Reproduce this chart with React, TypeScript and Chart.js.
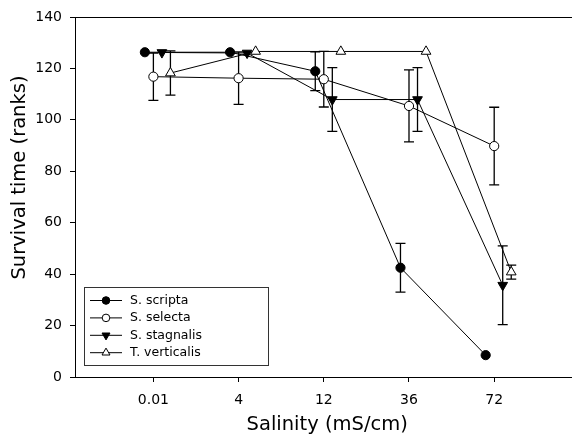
import React, { useEffect, useRef } from 'react';
import { Chart, registerables } from 'chart.js';
import { drawPoint } from 'chart.js/helpers';

Chart.register(...registerables);

// ---- data ----
const categories = ['0.01', '4', '12', '36', '72'];
const seriesNames = ['S. scripta', 'S. selecta', 'S. stagnalis', 'T. verticalis'];
const scripta = [126.3, 126.3, 118.9, 42.5, 8.5];
const scriptaErr = [0, 0, 7.5, 9.5, 0];
const selecta = [116.8, 116.2, 115.8, 105.4, 89.8];
const selectaErr = [9.2, 10.2, 10.8, 14.0, 15.1];
const stagnalis = [126.2, 126.0, 107.9, 107.9, 35.7];
const stagnalisErr = [0, 0, 12.4, 12.4, 15.3];
const verticalis = [118.2, 126.6, 126.6, 126.6, 40.8];
const verticalisErr = [8.6, 0, 0, 0, 2.7];
const yMin = 0;
const yMax = 140;
const yStep = 20;
const xTitle = 'Salinity (mS/cm)';
const yTitle = 'Survival time (ranks)';

const FONT = '"DejaVu Sans", sans-serif';

const styles = [
  { offset: -0.1, pointStyle: 'circle', rotation: 0, radius: 4.6, fill: '#000', legendRadius: 3.8 },
  { offset: 0, pointStyle: 'circle', rotation: 0, radius: 4.6, fill: '#fff', legendRadius: 3.8 },
  { offset: 0.1, pointStyle: 'triangle', rotation: 180, radius: 5.6, fill: '#000', legendRadius: 4.6 },
  { offset: 0.2, pointStyle: 'triangle', rotation: 0, radius: 5.6, fill: '#fff', legendRadius: 4.6 },
];

const seriesValues = [scripta, selecta, stagnalis, verticalis];
const seriesErrors = [scriptaErr, selectaErr, stagnalisErr, verticalisErr];

const errorBarPlugin = {
  id: 'errorBars',
  beforeDatasetsDraw(chart: any) {
    const { ctx } = chart;
    const xs = chart.scales.x;
    const ys = chart.scales.y;
    ctx.save();
    ctx.strokeStyle = '#000';
    ctx.lineWidth = 1.3;
    chart.data.datasets.forEach((ds: any) => {
      ds.data.forEach((p: any, i: number) => {
        const e = ds.errors[i];
        if (!e) return;
        const px = xs.getPixelForValue(p.x);
        const top = ys.getPixelForValue(p.y + e);
        const bot = ys.getPixelForValue(p.y - e);
        ctx.beginPath();
        ctx.moveTo(px, top);
        ctx.lineTo(px, bot);
        ctx.moveTo(px - 5, top);
        ctx.lineTo(px + 5, top);
        ctx.moveTo(px - 5, bot);
        ctx.lineTo(px + 5, bot);
        ctx.stroke();
      });
    });
    ctx.restore();
  },
};

const framePlugin = {
  id: 'frameTop',
  afterDraw(chart: any) {
    const { ctx, chartArea } = chart;
    ctx.save();
    ctx.strokeStyle = '#000';
    ctx.lineWidth = 1;
    ctx.beginPath();
    ctx.moveTo(chartArea.left, Math.round(chartArea.top) + 0.5);
    ctx.lineTo(chartArea.right, Math.round(chartArea.top) + 0.5);
    ctx.stroke();
    ctx.restore();
  },
};

const yTitlePlugin = {
  id: 'yTitle',
  afterDraw(chart: any) {
    const { ctx } = chart;
    ctx.save();
    ctx.translate(25, 177.5);
    ctx.rotate(-Math.PI / 2);
    ctx.font = `19.5px ${FONT}`;
    ctx.fillStyle = '#000';
    ctx.textAlign = 'center';
    ctx.textBaseline = 'alphabetic';
    ctx.fillText(yTitle, 0, 0);
    ctx.restore();
  },
};

const legendPlugin = {
  id: 'boxLegend',
  afterDraw(chart: any) {
    const { ctx } = chart;
    const boxL = 84.5, boxT = 287.5, boxW = 184, boxH = 78;
    ctx.save();
    ctx.fillStyle = '#fff';
    ctx.fillRect(boxL, boxT, boxW, boxH);
    ctx.strokeStyle = '#333';
    ctx.lineWidth = 1;
    ctx.strokeRect(boxL, boxT, boxW, boxH);
    chart.data.datasets.forEach((ds: any, i: number) => {
      const y = 300.5 + i * 17.4;
      ctx.strokeStyle = '#000';
      ctx.lineWidth = 1;
      ctx.beginPath();
      ctx.moveTo(90, y);
      ctx.lineTo(122, y);
      ctx.stroke();
      const st = styles[i];
      ctx.fillStyle = st.fill;
      ctx.strokeStyle = '#000';
      ctx.lineWidth = 1;
      drawPoint(ctx, { pointStyle: st.pointStyle, rotation: st.rotation, radius: st.legendRadius, borderWidth: 1 } as any, 106, y);
      ctx.fillStyle = '#000';
      ctx.font = `12.5px ${FONT}`;
      ctx.textAlign = 'left';
      ctx.textBaseline = 'middle';
      ctx.fillText(ds.label, 130, y);
    });
    ctx.restore();
  },
};

export default function App() {
  const canvasRef = useRef<HTMLCanvasElement>(null);

  useEffect(() => {
    if (!canvasRef.current) return;
    Chart.defaults.font.family = FONT;
    Chart.defaults.color = '#000';

    const datasets = seriesNames.map((name, s) => {
      const st = styles[s];
      return {
        label: name,
        data: categories.map((_, i) => ({ x: i + 1 + st.offset, y: seriesValues[s][i] })),
        errors: seriesErrors[s],
        borderColor: '#000',
        borderWidth: 1,
        fill: false,
        tension: 0,
        pointStyle: st.pointStyle,
        pointRotation: st.rotation,
        pointRadius: st.radius,
        pointHoverRadius: st.radius,
        pointBackgroundColor: st.fill,
        pointBorderColor: '#000',
        pointBorderWidth: 1,
      };
    });

    const chart = new Chart(canvasRef.current, {
      type: 'line',
      data: { datasets: datasets as any },
      options: {
        animation: false,
        responsive: false,
        maintainAspectRatio: false,
        devicePixelRatio: 1,
        layout: { padding: { left: 0, top: 17, right: 1, bottom: 0 } },
        plugins: {
          legend: { display: false },
          tooltip: { enabled: false },
        },
        scales: {
          x: {
            type: 'linear',
            min: 0.08,
            max: 6.0,
            afterBuildTicks: (axis: any) => {
              axis.ticks = categories.map((_, i) => ({ value: i + 1 }));
            },
            afterFit: (scale: any) => {
              scale.height = 65;
            },
            ticks: {
              font: { size: 14 },
              color: '#000',
              padding: 10,
              maxRotation: 0,
              autoSkip: false,
              callback: (_v: any, index: number) => categories[index],
            },
            grid: {
              drawOnChartArea: false,
              drawTicks: true,
              tickLength: 5,
              color: '#000',
              lineWidth: 1,
            },
            border: { display: true, color: '#000', width: 1 },
            title: {
              display: true,
              text: xTitle,
              font: { size: 19.5 },
              color: '#000',
              padding: { top: 0, bottom: 5 },
            },
          },
          y: {
            type: 'linear',
            min: yMin,
            max: yMax,
            afterFit: (scale: any) => {
              scale.width = 75;
            },
            ticks: {
              stepSize: yStep,
              font: { size: 14 },
              color: '#000',
              padding: 8,
            },
            grid: {
              drawOnChartArea: false,
              drawTicks: true,
              tickLength: 5,
              color: '#000',
              lineWidth: 1,
            },
            border: { display: true, color: '#000', width: 1 },
          },
        },
      },
      plugins: [errorBarPlugin, framePlugin, yTitlePlugin, legendPlugin],
    });
    return () => chart.destroy();
  }, []);

  return (
    <div style={{ position: 'absolute', left: 0, top: 0, width: 572, height: 442, overflow: 'hidden', background: '#fff' }}>
      <canvas ref={canvasRef} width={586} height={442} style={{ display: 'block' }} />
    </div>
  );
}
